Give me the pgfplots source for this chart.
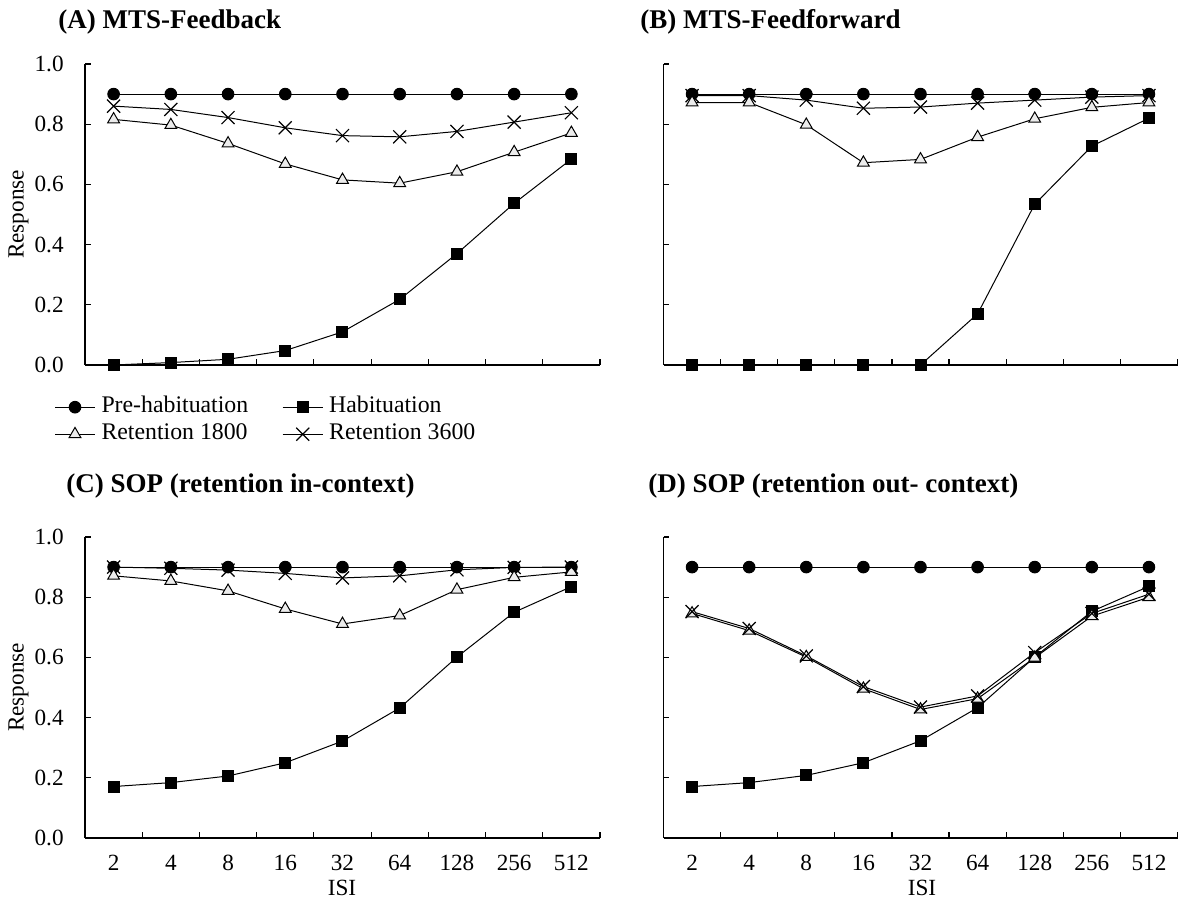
\documentclass[border=0pt]{standalone}
\usepackage{pgfplots}
\pgfplotsset{compat=1.18}
\usepackage{pgfplotstable}
\usepackage{fontspec}
\setmainfont{Liberation Serif}

\pgfplotstableread{
x pre hab r18 r36
0 0.9 0.000 0.816 0.860
1 0.9 0.008 0.797 0.849
2 0.9 0.019 0.736 0.822
3 0.9 0.048 0.668 0.788
4 0.9 0.110 0.615 0.762
5 0.9 0.218 0.604 0.758
6 0.9 0.370 0.642 0.776
7 0.9 0.537 0.707 0.807
8 0.9 0.684 0.771 0.838
}\dataA
\pgfplotstableread{
x pre hab r18 r36
0 0.9 0.000 0.872 0.895
1 0.9 0.000 0.872 0.895
2 0.9 0.000 0.798 0.880
3 0.9 0.000 0.672 0.853
4 0.9 0.000 0.683 0.857
5 0.9 0.170 0.757 0.870
6 0.9 0.534 0.818 0.880
7 0.9 0.727 0.856 0.890
8 0.9 0.820 0.872 0.895
}\dataB
\pgfplotstableread{
x pre hab r18 r36
0 0.9 0.171 0.871 0.900
1 0.9 0.184 0.854 0.896
2 0.9 0.206 0.821 0.890
3 0.9 0.250 0.761 0.879
4 0.9 0.322 0.711 0.864
5 0.9 0.432 0.739 0.871
6 0.9 0.601 0.825 0.891
7 0.9 0.750 0.866 0.899
8 0.9 0.835 0.884 0.900
}\dataC
\pgfplotstableread{
x pre hab r18 r36
0 0.9 0.171 0.746 0.752
1 0.9 0.184 0.689 0.696
2 0.9 0.208 0.601 0.605
3 0.9 0.250 0.496 0.503
4 0.9 0.323 0.427 0.435
5 0.9 0.433 0.463 0.472
6 0.9 0.601 0.599 0.616
7 0.9 0.753 0.737 0.746
8 0.9 0.836 0.800 0.810
}\dataD

\pgfplotsset{
  panel/.style={
    scale only axis, width=257.5pt, height=150.5pt,
    xmin=-0.5, xmax=8.5, ymin=0, ymax=1,
    axis x line*=bottom, axis y line*=left,
    axis line style={line width=0.75pt, black},
    clip=false,
    tick align=inside,
    xtick={0,1,2,3,4,5,6,7,8},
    major x tick style={draw=none},
    minor xtick={-0.5,0.5,...,8.5},
    minor tick length=2.75pt,
    major tick length=2.75pt,
    every tick/.style={black, line width=0.6pt},
    ytick={0,0.2,0.4,0.6,0.8,1},
    /pgf/number format/assume math mode=true,
    tick label style={font=\fontsize{11.6}{13.5}\selectfont},
    yticklabel style={inner xsep=0pt, xshift=-10.5pt, /pgf/number format/.cd, fixed, fixed zerofill, precision=1},
    xticklabel style={inner sep=0pt, yshift=-8.5pt},
  },
  nolabelsx/.style={xticklabels={}},
  nolabelsy/.style={yticklabels={}},
  withx/.style={xticklabels={2,4,8,16,32,64,128,256,512}},
  sPre/.style={black, line width=0.5pt, mark=*, mark size=2.9pt, mark options={fill=black, solid}},
  sHab/.style={black, line width=0.5pt, mark=square*, mark size=2.75pt, mark options={fill=black, solid}},
  sR18/.style={black, line width=0.5pt, mark=triangle*, mark size=3.4pt, mark options={fill=gray!15, solid}},
  sR36/.style={black, line width=0.5pt, mark=x, mark size=4.6pt, mark options={solid, line width=0.6pt}},
}

\begin{document}
\begin{tikzpicture}
\useasboundingbox (0,0) rectangle (589pt,449.5pt);

% Panel A
\begin{axis}[panel, nolabelsx, at={(42.5pt,267pt)}, anchor=south west,
  legend columns=2, legend cell align=left,
  legend image code/.code={\draw[mark repeat=2, mark phase=2, #1] plot coordinates {(0pt,0pt) (10pt,0pt) (20pt,0pt)};},
  legend style={at={(axis description cs:-0.06,-0.104)}, anchor=north west, draw=none, fill=none, inner sep=0pt,
    font=\fontsize{11.9}{13.5}\selectfont,
    /tikz/every even column/.append style={column sep=14pt},
    row sep=3pt,
    nodes={inner xsep=3pt, inner ysep=0pt, text depth=2.5pt, text height=8pt}},
]
\addplot[sPre] table[x=x,y=pre]{\dataA};
\addplot[sHab] table[x=x,y=hab]{\dataA};
\addplot[sR18] table[x=x,y=r18]{\dataA};
\addplot[sR36] table[x=x,y=r36]{\dataA};
\legend{Pre-habituation, Habituation, Retention 1800, Retention 3600}
\end{axis}

% Panel B
\begin{axis}[panel, nolabelsx, nolabelsy, width=257pt, at={(331.75pt,267pt)}, anchor=south west]
\addplot[sPre] table[x=x,y=pre]{\dataB};
\addplot[sHab] table[x=x,y=hab]{\dataB};
\addplot[sR18] table[x=x,y=r18]{\dataB};
\addplot[sR36] table[x=x,y=r36]{\dataB};
\end{axis}

% Panel C
\begin{axis}[panel, withx, at={(42.5pt,30.5pt)}, anchor=south west]
\addplot[sPre] table[x=x,y=pre]{\dataC};
\addplot[sHab] table[x=x,y=hab]{\dataC};
\addplot[sR18] table[x=x,y=r18]{\dataC};
\addplot[sR36] table[x=x,y=r36]{\dataC};
\end{axis}

% Panel D
\begin{axis}[panel, withx, nolabelsy, width=257pt, at={(331.75pt,30.5pt)}, anchor=south west]
\addplot[sPre] table[x=x,y=pre]{\dataD};
\addplot[sHab] table[x=x,y=hab]{\dataD};
\addplot[sR18] table[x=x,y=r18]{\dataD};
\addplot[sR36] table[x=x,y=r36]{\dataD};
\end{axis}

% Titles
\begin{scope}[every node/.style={font=\bfseries\fontsize{13.5}{15.5}\selectfont, anchor=west, inner sep=0pt}]
\node at (29pt,438.5pt) {(A) MTS-Feedback};
\node at (320pt,438.5pt) {(B) MTS-Feedforward};
\node at (33pt,206.5pt) {(C) SOP (retention in-context)};
\node at (324pt,206.5pt) {(D) SOP (retention out- context)};
\end{scope}

% Axis labels
\begin{scope}[every node/.style={font=\fontsize{11.6}{13.5}\selectfont, inner sep=0pt}]
\node[rotate=90] at (9.25pt,342.25pt) {Response};
\node[rotate=90] at (9.25pt,105.75pt) {Response};
\node at (171pt,5.5pt) {ISI};
\node at (461pt,5.5pt) {ISI};
\end{scope}
\end{tikzpicture}
\end{document}
